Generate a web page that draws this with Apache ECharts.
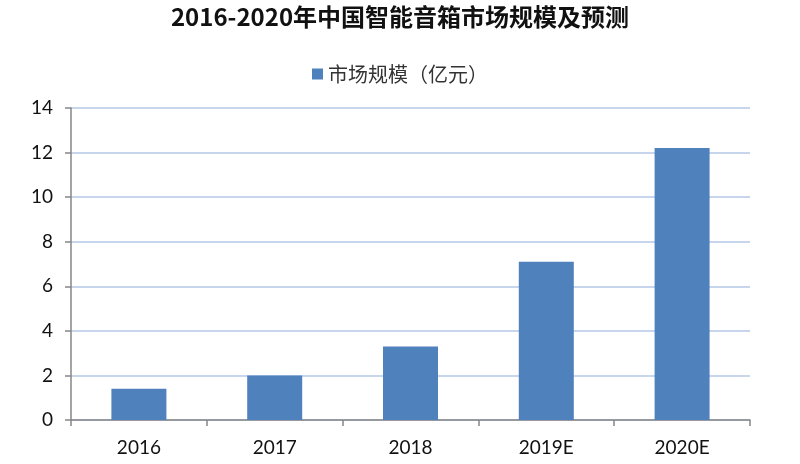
<!DOCTYPE html>
<html><head><meta charset="utf-8">
<script src="https://cdn.jsdelivr.net/npm/echarts@6/dist/echarts.min.js"></script>
<style>html,body{margin:0;padding:0;background:#fff}#c{width:800px;height:464px}</style>
</head><body><div id="c"></div>
<script>
const categories = ['2016', '2017', '2018', '2019E', '2020E'];
const marketSize = [1.4, 2.0, 3.3, 7.1, 12.2];
const seriesName = '市场规模（亿元）';
const titleText = '2016-2020年中国智能音箱市场规模及预测';

const chart = echarts.init(document.getElementById('c'));
chart.setOption({
  animation: false,
  backgroundColor: '#fff',
  title: {
    text: titleText, left: 'center', top: 0,
    textStyle: { fontFamily: 'Noto Sans CJK SC', fontWeight: 'bold', fontSize: 24, color: '#111' }
  },
  legend: {
    data: [seriesName], top: 59, left: 'center',
    itemWidth: 11, itemHeight: 11, icon: 'rect', itemGap: 10,
    textStyle: { fontFamily: 'Noto Sans CJK SC', fontSize: 20, color: '#333' }
  },
  grid: { left: 71, right: 50, top: 108, bottom: 44 },
  xAxis: {
    type: 'category', data: categories,
    axisLine: { lineStyle: { color: '#868686', width: 1.5 } },
    axisTick: { show: true, alignWithLabel: false, length: 6, lineStyle: { color: '#868686', width: 1.5 } },
    axisLabel: { fontFamily: 'Lato', fontSize: 19, color: '#111', margin: 18 }
  },
  yAxis: {
    type: 'value', min: 0, max: 14, interval: 2,
    axisLine: { show: true, lineStyle: { color: '#868686', width: 1.5 } },
    axisTick: { show: true, length: 6, lineStyle: { color: '#868686', width: 1.5 } },
    axisLabel: { fontFamily: 'Lato', fontSize: 19, color: '#111', margin: 18 },
    splitLine: { lineStyle: { color: '#B4C7E7', width: 1.5 } }
  },
  series: [{
    name: seriesName, type: 'bar', data: marketSize, barWidth: 55,
    itemStyle: { color: '#4F81BD' }
  }]
});
</script></body></html>
